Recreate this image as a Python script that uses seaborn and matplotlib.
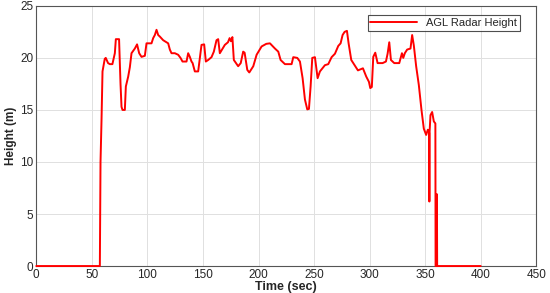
import matplotlib
matplotlib.use('Agg')
import matplotlib.pyplot as plt
import numpy as np
import pandas as pd
import seaborn as sns

# AGL radar height trace
time_sec = [0, 57.2, 57.8, 58.7, 59.6, 61.6, 62.5, 64.6, 66.2, 68.5, 70.7, 71.6, 74.5, 75.8, 76.7,
            77.6, 79.7, 80.6, 82.7, 84.2, 85.7, 88.7, 90.7, 92.6, 94.7, 97.7, 99.2, 103.7, 105.2,
            106.7, 108.2, 109.7, 111.2, 114.2, 118.7, 120.2, 121.7, 124.7, 127.7, 129.8, 131.6,
            135.2, 136.7, 138.2, 139.7, 140.7, 142.7, 145.7, 147.2, 148.7, 151.1, 152.6, 154.7,
            157.7, 159.8, 162.2, 163.7, 165.2, 169.7, 172.5, 174.0, 175.2, 176.5, 177.8, 181.7,
            184.0, 186.2, 187.5, 189.9, 191.7, 195.3, 198.3, 202.8, 207.0, 210.3, 214.8, 217.8,
            219.9, 223.8, 229.8, 231.3, 234.9, 237.3, 239.7, 241.8, 243.9, 245.4, 246.9, 248.4,
            250.8, 253.2, 255.3, 259.8, 262.8, 265.8, 268.8, 271.8, 273.9, 275.7, 277.5, 279.6,
            281.1, 283.5, 286.5, 289.5, 294.0, 297.0, 299.4, 300.6, 302.0, 303.3, 305.1, 307.2,
            311.7, 314.7, 316.2, 317.7, 319.2, 322.2, 326.7, 329.1, 330.3, 331.7, 333.8, 336.8,
            338.3, 339.8, 341.9, 344.3, 346.7, 348.8, 350.9, 352.4, 353.6, 353.8, 354.0, 354.8,
            356.3, 357.8, 359.2, 359.4, 360.5, 360.6, 360.8, 400]
height_m = [0, 0, 10.0, 14.0, 18.7, 19.9, 20.0, 19.5, 19.4, 19.4, 20.45, 21.8, 21.8, 17.5, 15.3,
            15.0, 15.0, 17.25, 18.2, 19.1, 20.45, 20.9, 21.3, 20.45, 20.1, 20.2, 21.4, 21.4, 21.9,
            22.2, 22.7, 22.2, 22.05, 21.7, 21.4, 20.8, 20.45, 20.45, 20.3, 20.0, 19.65,
            19.65, 20.45, 20.1, 19.65, 19.5, 18.7, 18.7, 20.0, 21.25, 21.3, 19.65, 19.8,
            20.07, 20.6, 21.7, 21.8, 20.45, 21.25, 21.5, 21.9, 21.6, 22.0, 19.8, 19.2,
            19.5, 20.6, 20.5, 18.85, 18.6, 19.2, 20.3, 21.1, 21.35, 21.4, 20.9, 20.6,
            19.8, 19.4, 19.4, 20.07, 20.0, 19.65, 18.05, 16.0, 15.05, 15.1, 17.25, 20.0,
            20.07, 18.05, 18.7, 19.3, 19.4, 20.07, 20.4, 21.15, 21.4, 22.2, 22.5, 22.6,
            21.4, 19.8, 19.3, 18.8, 19.0, 18.2, 17.7, 17.1, 17.2, 20.1, 20.5, 19.5,
            19.5, 19.65, 20.4, 21.5, 19.8, 19.5, 19.5, 20.45, 20.0, 20.45, 20.8, 20.9,
            22.2, 21.2, 19.2, 17.4, 15.0, 13.2, 12.6, 13.1, 12.8, 6.2, 12.9, 14.5,
            14.8, 13.9, 13.7, 0, 0, 6.9, 0, 0]
x_ticks = [0, 50, 100, 150, 200, 250, 300, 350, 400, 450]
y_ticks = [0, 5, 10, 15, 20, 25]

sns.set_style('whitegrid')
plt.rcParams['font.family'] = ['Liberation Sans', 'DejaVu Sans']

df = pd.DataFrame({'Time (sec)': time_sec, 'Height (m)': height_m})

fig, ax = plt.subplots(figsize=(5.5, 2.93), dpi=100)
fig.subplots_adjust(left=0.066, right=0.975, top=0.98, bottom=0.092)

sns.lineplot(data=df, x='Time (sec)', y='Height (m)', estimator=None, sort=False,
             color='#ff0000', linewidth=1.4, label='AGL Radar Height', ax=ax)
for ln in ax.get_lines():
    ln.set_clip_on(False)
    ln.set_zorder(5)

ax.set_xlim(0, 450)
ax.set_ylim(0, 25)
ax.set_xticks(x_ticks)
ax.set_yticks(y_ticks)
ax.grid(True, color='#e0e0e0', linewidth=0.7)
ax.tick_params(axis='both', labelsize=8.5, direction='in', length=3, color='#444444', pad=2)
for s in ax.spines.values():
    s.set_color('#555555')
    s.set_linewidth(0.8)
    s.set_zorder(2)
ax.set_xlabel('Time (sec)', fontsize=9, fontweight='bold', labelpad=0)
ax.set_ylabel('Height (m)', fontsize=8.5, fontweight='bold', labelpad=2)

leg = ax.legend(loc='upper right', fontsize=8, frameon=True, fancybox=False,
                edgecolor='#222222', borderpad=0.25, handlelength=4.2,
                bbox_to_anchor=(0.978, 0.985))
leg.get_frame().set_linewidth(0.8)
leg.set_zorder(6)

plt.savefig('out.png', dpi=100)
plt.close()
